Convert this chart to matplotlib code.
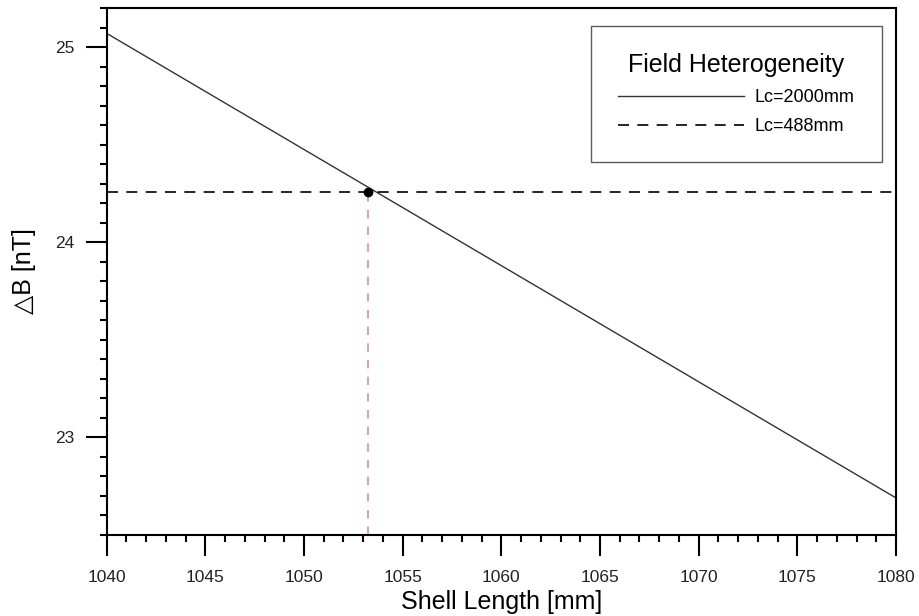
import numpy as np
import matplotlib.pyplot as plt

plt.rcParams['font.family'] = ['Liberation Sans', 'DejaVu Sans']

# data
shell_length = [1040, 1080]
dB_lc2000 = [25.07, 22.69]
dB_lc488 = [24.256, 24.256]
cross_x = 1053.23
cross_y = 24.256

fig = plt.figure(figsize=(9.19, 6.16), dpi=100)
ax = fig.add_axes([106.7 / 919, 81 / 616, 789.3 / 919, 527 / 616])

ax.plot(shell_length, dB_lc2000, color='#333333', lw=1.0, label='Lc=2000mm')
ax.plot(shell_length, dB_lc488, color='black', lw=1.2, dashes=(6.6, 5),
        label='Lc=488mm')
ax.plot([cross_x, cross_x], [22.5, cross_y], color='#e08a95', lw=1.2,
        dashes=(5, 5))
ax.plot([cross_x], [cross_y], 'o', color='black', ms=6, zorder=5)

ax.set_xlim(1040, 1080)
ax.set_ylim(22.5, 25.2)
ax.set_xticks(np.arange(1040, 1081, 5))
ax.set_xticks(np.arange(1040, 1081, 1), minor=True)
ax.set_yticks([23, 24, 25])
ax.set_yticks(np.arange(22.5, 25.21, 0.1), minor=True)

for s in ax.spines.values():
    s.set_linewidth(1.5)
ax.tick_params(which='major', direction='out', length=15, width=1.5,
               labelsize=12.5, pad=8, labelcolor='#222222')
ax.tick_params(axis='x', which='major', pad=10)
ax.tick_params(which='minor', direction='out', length=5, width=1.5)

ax.set_xlabel('Shell Length [mm]', fontsize=18, labelpad=4)
ax.set_ylabel('\u25b3B [nT]', fontsize=18, labelpad=14)

leg = ax.legend(title='Field Heterogeneity', title_fontsize=18, fontsize=13,
                loc='upper right', bbox_to_anchor=(0.982, 0.966),
                borderaxespad=0, frameon=True, fancybox=False,
                edgecolor='#333333', handlelength=7, handletextpad=0.6,
                borderpad=1.5, labelspacing=0.67)
leg.get_frame().set_linewidth(1.0)

fig.savefig('out.png', dpi=100)
